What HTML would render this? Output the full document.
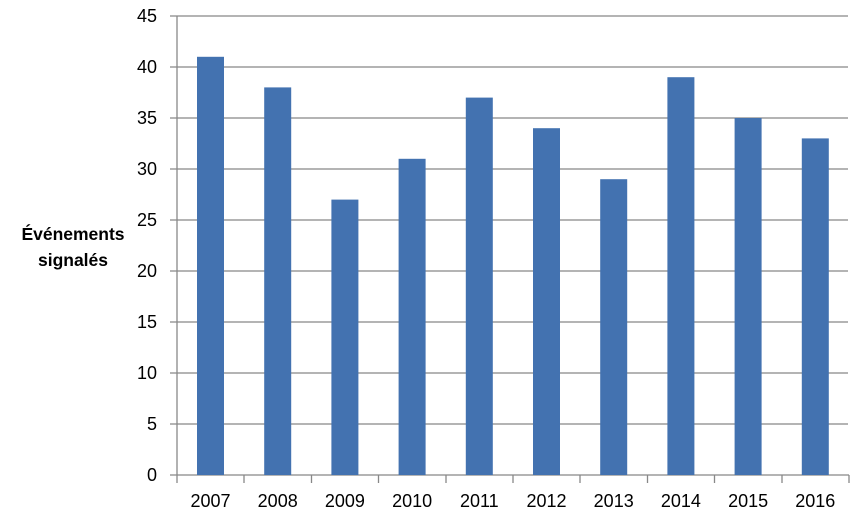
<!DOCTYPE html><html><head><style>body{margin:0;background:#fff}</style></head><body>
<svg width="864" height="524" xmlns="http://www.w3.org/2000/svg" font-family="Liberation Sans, sans-serif" font-size="18">
<g stroke="#888" stroke-width="1.3">
<line x1="170" y1="16" x2="848" y2="16"/><line x1="170" y1="67" x2="848" y2="67"/><line x1="170" y1="118" x2="848" y2="118"/><line x1="170" y1="169" x2="848" y2="169"/><line x1="170" y1="220" x2="848" y2="220"/><line x1="170" y1="271" x2="848" y2="271"/><line x1="170" y1="322" x2="848" y2="322"/><line x1="170" y1="373" x2="848" y2="373"/><line x1="170" y1="424" x2="848" y2="424"/>
<line x1="170" y1="475" x2="849" y2="475"/><line x1="177" y1="16" x2="177" y2="483"/>
<line x1="244" y1="475" x2="244" y2="483"/><line x1="311.5" y1="475" x2="311.5" y2="483"/><line x1="378.5" y1="475" x2="378.5" y2="483"/><line x1="446" y1="475" x2="446" y2="483"/><line x1="513" y1="475" x2="513" y2="483"/><line x1="580" y1="475" x2="580" y2="483"/><line x1="647.5" y1="475" x2="647.5" y2="483"/><line x1="714.5" y1="475" x2="714.5" y2="483"/><line x1="782" y1="475" x2="782" y2="483"/><line x1="849" y1="475" x2="849" y2="483"/>
</g>
<g fill="#4372b0">
<rect x="197" y="56.8" width="27" height="418.2"/><rect x="264.2" y="87.4" width="27" height="387.6"/><rect x="331.4" y="199.6" width="27" height="275.4"/><rect x="398.6" y="158.8" width="27" height="316.2"/><rect x="465.8" y="97.6" width="27" height="377.4"/><rect x="533" y="128.2" width="27" height="346.8"/><rect x="600.2" y="179.2" width="27" height="295.8"/><rect x="667.4" y="77.2" width="27" height="397.8"/><rect x="734.6" y="118" width="27" height="357"/><rect x="801.8" y="138.4" width="27" height="336.6"/>
</g>
<g text-anchor="end" fill="#000">
<text x="157" y="22">45</text><text x="157" y="73">40</text><text x="157" y="124">35</text><text x="157" y="175">30</text><text x="157" y="226">25</text><text x="157" y="277">20</text><text x="157" y="328">15</text><text x="157" y="379">10</text><text x="157" y="430">5</text><text x="157" y="481">0</text>
</g>
<g text-anchor="middle">
<text x="210.5" y="507">2007</text><text x="277.7" y="507">2008</text><text x="344.9" y="507">2009</text><text x="412.1" y="507">2010</text><text x="479.3" y="507">2011</text><text x="546.5" y="507">2012</text><text x="613.7" y="507">2013</text><text x="680.9" y="507">2014</text><text x="748.1" y="507">2015</text><text x="815.3" y="507">2016</text>
<text x="73" y="240" font-weight="bold" font-size="17.5">Événements</text><text x="73" y="266" font-weight="bold" font-size="17.5">signalés</text>
</g>
</svg></body></html>
